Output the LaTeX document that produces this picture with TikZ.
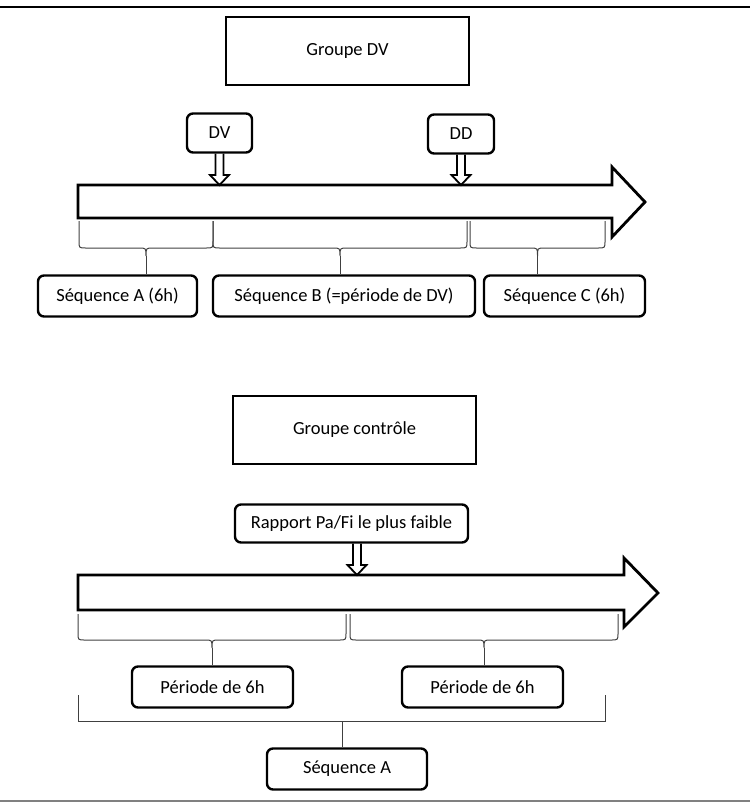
\documentclass[tikz,border=0pt]{standalone}
\usepackage{fontspec}
\setmainfont{Carlito}
\usetikzlibrary{calc}

\tikzset{
  grpbox/.style={draw, line width=2.4pt, minimum height=68pt, inner sep=0pt},
  tagbox/.style={draw, line width=2.4pt, rounded corners=6pt, minimum height=41pt, inner sep=0pt},
  bigarrow/.style={line width=2.8pt, line join=miter},
  smallarrow/.style={line width=1.8pt},
  bracel/.style={draw=black!75, line width=1pt},
}

% curly brace below the time line: left x, right x, top y, level y, tip name
\newcommand{\tlbrace}[5]{%
  \draw[bracel] (#1,#3) -- (#1,#4-7) .. controls (#1,#4) .. (#1+7,#4)
    -- ({(#1+#2)/2-7},#4) .. controls ({(#1+#2)/2},#4) .. ({(#1+#2)/2},#4+8)
    .. controls ({(#1+#2)/2},#4) .. ({(#1+#2)/2+7},#4)
    -- (#2-7,#4) .. controls (#2,#4) .. (#2,#4-7) -- (#2,#3);
  \coordinate (#5) at ({(#1+#2)/2},#4+8);
}

% small hollow arrow pointing down: start, tip
\newcommand{\blockdown}[2]{%
  \draw[smallarrow] let \p1=(#1), \p2=(#2) in
    (\x1-4pt,\y1) -- (\x1-4pt,\y2+10pt) -- (\x1-9.5pt,\y2+10pt) -- (\x1,\y2)
    -- (\x1+9.5pt,\y2+10pt) -- (\x1+4pt,\y2+10pt) -- (\x1+4pt,\y1);
}

\begin{document}
\begin{tikzpicture}[x=1pt, y=-1pt, font=\fontsize{18.5}{22}\selectfont]
  \useasboundingbox (0,0) rectangle (750,803);

  % frame lines
  \draw[line width=2.8pt] (0,7) -- (750,7);
  \draw[gray, line width=1.5pt] (0,801) -- (750,801);

  % ---- Groupe DV ----
  \node[grpbox, minimum width=243pt] (grpdv) at (347.5,51) {Groupe DV};
  \node[tagbox, minimum width=65pt, minimum height=39pt] (dv) at (219.5,133) {DV};
  \node[tagbox, minimum width=66pt, minimum height=39pt] (dd) at (461,134) {DD};

  % time line
  \coordinate (ax1) at (78,185);
  \draw[bigarrow] (ax1) -- (612,185) -- (612,167) -- (645,202) -- (612,237)
    -- (612,218) -- (78,218) -- cycle;

  \blockdown{dv.south}{dv.south |- ax1}
  \blockdown{dd.south}{dd.south |- ax1}

  \node[tagbox, minimum width=159pt] (seqa) at (117.5,296) {Séquence A (6h)};
  \node[tagbox, minimum width=262pt] (seqb) at (344,296) {Séquence B (=période de DV)};
  \node[tagbox, minimum width=161pt] (seqc) at (564.5,296) {Séquence C (6h)};

  \foreach \a/\b/\n in {79/213/ba, 213/467/bb, 470/605/bc} {
    \tlbrace{\a}{\b}{221}{248}{\n}
  }
  \foreach \n/\s in {ba/seqa, bb/seqb, bc/seqc} {
    \draw[bracel] (\n) -- (\s.north -| \n);
  }

  % ---- Groupe controle ----
  \node[grpbox, minimum width=243pt] (grpctl) at (354.5,430) {Groupe contrôle};
  \node[tagbox, minimum width=233pt, minimum height=38pt] (rap) at (351.5,523.5) {Rapport Pa/Fi le plus faible};

  % time line
  \coordinate (ax2) at (78,575);
  \draw[bigarrow] (ax2) -- (624,575) -- (624,558) -- (658,593) -- (624,627)
    -- (624,610) -- (78,610) -- cycle;

  \blockdown{[xshift=5.5pt]rap.south}{[xshift=5.5pt]rap.south |- ax2}

  \node[tagbox, minimum width=161pt] (per1) at (212.5,687) {Période de 6h};
  \node[tagbox, minimum width=161pt] (per2) at (482.5,687) {Période de 6h};

  \foreach \a/\b/\n in {78/346/bp1, 350/618/bp2} {
    \tlbrace{\a}{\b}{614}{640}{\n}
  }
  \foreach \n/\s in {bp1/per1, bp2/per2} {
    \draw[bracel] (\n) -- (\s.north -| \n);
  }

  % bracket over both periods
  \node[tagbox, minimum width=160pt] (seqab) at (347,769) {Séquence A};
  \draw[bracel] (78,695) -- (78,721) -- (605,721) -- (605,695);
  \coordinate (bk) at (342,721);
  \draw[bracel] (bk) -- (seqab.north -| bk);
\end{tikzpicture}
\end{document}
